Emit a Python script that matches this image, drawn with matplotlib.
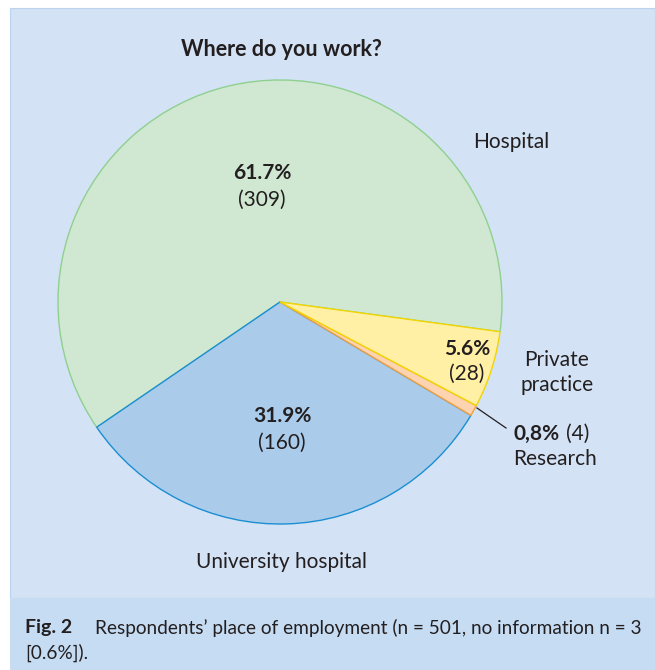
"""Pie chart: Where do you work? (Fig. 2)"""
import matplotlib
matplotlib.use("Agg")
import matplotlib.pyplot as plt
from matplotlib.patches import Rectangle
from matplotlib.lines import Line2D

plt.rcParams["font.family"] = ["Lato", "DejaVu Sans"]

W, H = 655, 670

categories = ["Hospital", "University hospital", "Research", "Private practice"]
counts = [309, 160, 4, 28]
percents = ["61.7%", "31.9%", "0,8%", "5.6%"]
fills = ["#d0e8d2", "#abcbeb", "#fdd3b0", "#fff0a6"]
edges = ["#8fd08f", "#1b8fd2", "#f0a040", "#f2d400"]

TEXT = "#231f20"


def fx(x):
    return x / W


def fy(y):
    return 1 - y / H


fig = plt.figure(figsize=(W / 100, H / 100), dpi=100)
fig.patch.set_facecolor("white")

# panel and caption backgrounds
fig.patches.append(Rectangle((fx(10), fy(598)), fx(645), 590 / H, transform=fig.transFigure,
                             facecolor="#d3e2f5", edgecolor="#bcd3ee", linewidth=0.8, zorder=-10))
fig.patches.append(Rectangle((fx(10), fy(670)), fx(645), 72 / H, transform=fig.transFigure,
                             facecolor="#c5dcf3", edgecolor="none", zorder=-10))

cx, cy, r = 280, 302, 222
ax = fig.add_axes([fx(cx - r), fy(cy + r), 2 * r / W, 2 * r / H])
ax.set_zorder(1)
ax.patch.set_visible(False)
wedges, _ = ax.pie(counts, startangle=-7.7, counterclock=True, colors=fills,
                   wedgeprops=dict(linewidth=1.0))
for w, ec in zip(wedges, edges):
    w.set_edgecolor(ec)
    w.set_clip_on(False)
ax.set_xlim(-1.0, 1.0)
ax.set_ylim(-1.0, 1.0)
ax.set_aspect("equal")
ax.axis("off")

fs = 15
fig.text(fx(281), fy(50), "Where do you work?", ha="center", va="center",
         fontsize=15.5, fontweight="bold", color=TEXT, zorder=5)

# in-slice labels
fig.text(fx(262), fy(173), percents[0], ha="center", va="center", fontsize=fs,
         fontweight="bold", color=TEXT, zorder=5)
fig.text(fx(262), fy(200), f"({counts[0]})", ha="center", va="center", fontsize=fs,
         color=TEXT, zorder=5)
fig.text(fx(282), fy(416), percents[1], ha="center", va="center", fontsize=fs,
         fontweight="bold", color=TEXT, zorder=5)
fig.text(fx(282), fy(443), f"({counts[1]})", ha="center", va="center", fontsize=fs,
         color=TEXT, zorder=5)
fig.text(fx(467), fy(349), percents[3], ha="center", va="center", fontsize=fs,
         fontweight="bold", color=TEXT, zorder=5)
fig.text(fx(467), fy(374), f"({counts[3]})", ha="center", va="center", fontsize=fs,
         color=TEXT, zorder=5)

# outside labels
fig.text(fx(511), fy(142), categories[0], ha="center", va="center", fontsize=fs, color=TEXT)
fig.text(fx(557), fy(360), "Private", ha="center", va="center", fontsize=fs, color=TEXT)
fig.text(fx(557), fy(385), "practice", ha="center", va="center", fontsize=fs, color=TEXT)
fig.text(fx(281), fy(562), categories[1], ha="center", va="center", fontsize=fs, color=TEXT)
fig.text(fx(514), fy(434), percents[2], ha="left", va="center", fontsize=fs,
         fontweight="bold", color=TEXT)
fig.text(fx(566), fy(434), f"({counts[2]})", ha="left", va="center", fontsize=fs, color=TEXT)
fig.text(fx(555), fy(459), categories[2], ha="center", va="center", fontsize=fs, color=TEXT)
fig.lines.append(Line2D([fx(477), fx(506)], [fy(408), fy(428)], transform=fig.transFigure,
                        color=TEXT, linewidth=0.9, zorder=5))

# caption
fig.text(fx(25), fy(628), "Fig. 2", ha="left", va="center", fontsize=14,
         fontweight="bold", color=TEXT)
fig.text(fx(95), fy(628), "Respondents’ place of employment (n = 501, no information n = 3",
         ha="left", va="center", fontsize=13.7, color=TEXT)
fig.text(fx(25), fy(653), "[0.6%]).", ha="left", va="center", fontsize=13.7, color=TEXT)

fig.savefig("out.png", dpi=100)
